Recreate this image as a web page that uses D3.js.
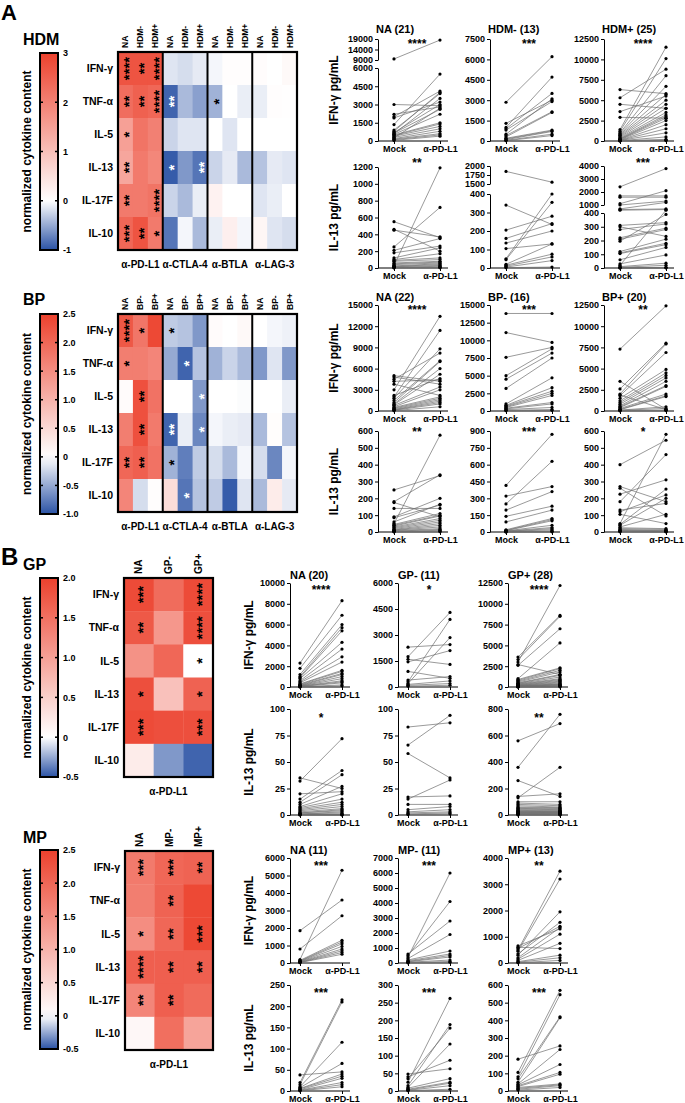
<!DOCTYPE html>
<html>
<head>
<meta charset="utf-8">
<script src="https://cdn.jsdelivr.net/npm/d3@7"></script>
<style>
  body { margin: 0; background: #fff; }
  svg text { font-family: Arial, "Liberation Sans", sans-serif; fill: #000; }
  .yax text, .xax text { font-size: 9px; font-weight: bold; }
  .cbax text { font-size: 9px; font-weight: bold; }
</style>
</head>
<body>
<svg id="fig" width="685" height="1103"></svg>
<script>
// ---- heatmap data ----
const cytokines = ["IFN-γ", "TNF-α", "IL-5", "IL-13", "IL-17F", "IL-10"];
const blockersA = ["α-PD-L1", "α-CTLA-4", "α-BTLA", "α-LAG-3"];
const blockersB = ["α-PD-L1"];
const conds = ["Mock", "α-PD-L1"];

const hdmCols = ["NA", "HDM-", "HDM+"];
const bpCols = ["NA", "BP-", "BP+"];
const gpCols = ["NA", "GP-", "GP+"];
const mpCols = ["NA", "MP-", "MP+"];

const hdmTicks = [3, 2, 1, 0, -1];
const hdmTickLabels = ["3", "2", "1", "0", "-1"];
const bpTicks = [2.5, 2.0, 1.5, 1.0, 0.5, 0, -0.5, -1.0];
const bpTickLabels = ["2.5", "2.0", "1.5", "1.0", "0.5", "0", "-0.5", "-1.0"];
const gpTicks = [2.0, 1.5, 1.0, 0.5, 0, -0.5];
const gpTickLabels = ["2.0", "1.5", "1.0", "0.5", "0", "-0.5"];
const mpTicks = [2.5, 2.0, 1.5, 1.0, 0.5, 0, -0.5];
const mpTickLabels = ["2.5", "2.0", "1.5", "1.0", "0.5", "0", "-0.5"];

const hdmHeat = [
  [2.7, 2.7, 2.7, -0.15, -0.2, -0.12, -0.05, 0.03, 0.03, 0.05, 0.0, 0.1],
  [2.3, 2.5, 2.4, -0.9, -0.4, -0.55, -0.45, 0.0, -0.1, -0.1, 0.03, 0.02],
  [1.5, 2.2, 2.0, -0.25, -0.15, -0.15, 0.0, -0.15, 0.0, 0.0, 0.0, 0.0],
  [1.4, 2.1, 1.9, -0.95, -0.6, -0.8, -0.25, -0.12, -0.4, -0.35, -0.12, -0.15],
  [2.1, 2.1, 2.2, -0.25, -0.4, -0.1, 0.2, 0.0, 0.0, -0.15, -0.1, 0.0],
  [2.4, 2.7, 2.1, -0.8, -0.05, -0.4, -0.1, 0.25, -0.05, 0.15, -0.15, -0.2]
];
const hdmStars = [
  ["****", "**", "****", "", "", "", "", "", "", "", "", ""],
  ["**", "**", "****", "**", "", "", "*", "", "", "", "", ""],
  ["*", "", "", "", "", "", "", "", "", "", "", ""],
  ["**", "", "", "*", "", "**", "", "", "", "", "", ""],
  ["**", "", "****", "", "", "", "", "", "", "", "", ""],
  ["***", "**", "*", "", "", "", "", "", "", "", "", ""]
];

const bpHeat = [
  [2.2, 1.8, 2.4, -0.3, -0.35, -0.6, 0.05, 0.0, 0.08, 0.0, -0.05, -0.08],
  [1.7, 1.7, 1.6, -0.5, -0.9, -0.35, -0.45, -0.25, -0.4, -0.6, -0.15, -0.6],
  [0.05, 2.3, 1.85, 0.0, 0.0, -0.6, 0.0, 0.0, -0.02, 0.0, 0.0, -0.1],
  [1.7, 2.3, 1.75, -0.9, -0.1, -0.7, -0.05, -0.1, -0.12, -0.4, 0.03, -0.35],
  [2.0, 2.1, 1.85, -0.45, -0.75, -0.3, -0.2, -0.4, -0.05, -0.2, -0.7, -0.05],
  [1.6, -0.2, 0.02, 0.45, -0.8, -0.35, -0.3, -0.95, -0.15, -0.4, 0.25, -0.12]
];
const bpStars = [
  ["****", "*", "", "*", "", "", "", "", "", "", "", ""],
  ["*", "", "", "", "*", "", "", "", "", "", "", ""],
  ["", "**", "", "", "", "*", "", "", "", "", "", ""],
  ["", "**", "", "**", "", "*", "", "", "", "", "", ""],
  ["**", "**", "", "*", "", "", "", "", "", "", "", ""],
  ["", "", "", "", "*", "", "", "", "", "", "", ""]
];

const gpHeat = [[1.9, 1.55, 1.9], [1.75, 1.1, 1.85], [1.15, 1.6, 0.0], [1.85, 0.65, 1.65], [1.9, 1.85, 1.85], [0.2, -0.3, -0.45]];
const gpStars = [["***", "", "****"], ["**", "", "****"], ["", "", "*"], ["*", "", "*"], ["***", "", "***"], ["", "", ""]];

const mpHeat = [[1.75, 2.0, 2.05], [1.7, 2.05, 2.4], [1.5, 2.0, 2.4], [2.1, 2.1, 2.1], [1.6, 2.1, 1.95], [0.1, 1.9, 1.2]];
const mpStars = [["***", "***", "**"], ["", "**", ""], ["*", "**", "***"], ["****", "**", "**"], ["**", "**", ""], ["", "", ""]];

// ---- paired plot data: [Mock, α-PD-L1] pg/mL ----
const hdmTitles = ["NA (21)", "HDM- (13)", "HDM+ (25)"];
const bpTitles = ["NA (22)", "BP- (16)", "BP+ (20)"];
const gpTitles = ["NA (20)", "GP- (11)", "GP+ (28)"];
const mpTitles = ["NA (11)", "MP- (11)", "MP+ (13)"];

const hdmIfnSig = ["****", "***", "****"];
const hdmIl13Sig = ["**", "", "***"];
const bpIfnSig = ["****", "***", "**"];
const bpIl13Sig = ["**", "***", "*"];
const gpIfnSig = ["****", "*", "****"];
const gpIl13Sig = ["*", "", "**"];
const mpIfnSig = ["***", "***", "**"];
const mpIl13Sig = ["***", "***", "***"];

const hdmNaIfnTicks = [[0, 1500, 3000, 4500, 6000], [9000, 14000, 19000]];
const hdmNegIfnTicks = [0, 1500, 3000, 4500, 6000, 7500];
const hdmPosIfnTicks = [0, 2500, 5000, 7500, 10000, 12500];
const hdmNaIl13Ticks = [0, 200, 400, 600, 800, 1000, 1200];
const hdmNegIl13Ticks = [[0, 100, 200, 300, 400], [1500, 1750, 2000]];
const hdmPosIl13Ticks = [[0, 100, 200, 300, 400], [1000, 2000, 3000, 4000]];
const bpNaIfnTicks = [0, 3000, 6000, 9000, 12000, 15000];
const bpNegIfnTicks = [0, 2500, 5000, 7500, 10000, 12500, 15000];
const bpPosIfnTicks = [0, 2500, 5000, 7500, 10000, 12500];
const bpNaIl13Ticks = [0, 100, 200, 300, 400, 500, 600];
const bpNegIl13Ticks = [0, 150, 300, 450, 600, 750, 900];
const bpPosIl13Ticks = [0, 100, 200, 300, 400, 500, 600];
const gpNaIfnTicks = [0, 2000, 4000, 6000, 8000, 10000];
const gpNegIfnTicks = [0, 1500, 3000, 4500, 6000];
const gpPosIfnTicks = [0, 2500, 5000, 7500, 10000, 12500];
const gpNaIl13Ticks = [0, 25, 50, 75, 100];
const gpNegIl13Ticks = [0, 25, 50, 75, 100];
const gpPosIl13Ticks = [0, 200, 400, 600, 800];
const mpNaIfnTicks = [0, 1000, 2000, 3000, 4000, 5000, 6000];
const mpNegIfnTicks = [0, 1000, 2000, 3000, 4000, 5000, 6000, 7000];
const mpPosIfnTicks = [0, 1000, 2000, 3000, 4000];
const mpNaIl13Ticks = [0, 50, 100, 150, 200, 250];
const mpNegIl13Ticks = [0, 50, 100, 150, 200, 250, 300];
const mpPosIl13Ticks = [0, 100, 200, 300, 400, 500, 600];

const hdmNaIfn = [[9500, 18500], [3000, 2900], [2200, 2800], [2000, 4100], [1900, 3200], [1350, 5500], [900, 3900], [800, 4000], [700, 3000], [650, 2600], [600, 3500], [550, 2200], [500, 1500], [450, 1400], [400, 1200], [300, 1000], [250, 2700], [200, 800], [150, 600], [100, 500], [50, 400]];
const hdmNegIfn = [[2850, 6200], [1300, 3000], [1000, 4700], [900, 3500], [800, 2900], [500, 3100], [400, 2150], [300, 2100], [200, 800], [150, 750], [100, 700], [50, 500], [20, 400]];
const hdmPosIfn = [[6300, 5800], [5300, 8800], [4500, 4000], [3600, 5500], [2900, 2800], [1400, 11500], [1200, 10100], [1000, 8000], [900, 6700], [800, 5700], [700, 5000], [600, 4500], [500, 4000], [400, 3500], [300, 3200], [250, 3000], [200, 2800], [150, 2500], [100, 2000], [80, 1500], [60, 1000], [40, 500], [30, 200], [20, 100], [10, 50]];
const hdmNaIl13 = [[550, 360], [460, 200], [450, 370], [250, 720], [210, 350], [180, 260], [120, 240], [100, 170], [90, 120], [80, 100], [60, 80], [50, 70], [40, 60], [30, 1190], [25, 50], [20, 40], [15, 30], [10, 20], [5, 10], [3, 5], [2, 3]];
const hdmNegIl13 = [[1850, 1550], [340, 235], [205, 280], [160, 240], [135, 200], [105, 130], [50, 400], [45, 355], [20, 130], [15, 75], [10, 60], [5, 40], [2, 5]];
const hdmPosIl13 = [[2400, 3800], [1700, 1700], [1600, 1600], [1100, 2100], [1000, 1300], [700, 1200], [650, 700], [600, 650], [310, 330], [300, 230], [280, 320], [220, 290], [210, 280], [195, 390], [120, 210], [110, 180], [105, 170], [60, 150], [30, 95], [20, 600], [10, 35], [5, 20], [2, 5], [1, 2], [0.5, 1]];

const bpNaIfn = [[5000, 4200], [4800, 3800], [4500, 8200], [4200, 4400], [3800, 2200], [3000, 13400], [2200, 4600], [2000, 11400], [1800, 8800], [1500, 7100], [1200, 7000], [1000, 6000], [900, 5200], [800, 3400], [600, 3000], [500, 2000], [400, 1800], [300, 1600], [200, 1400], [150, 1200], [100, 1000], [50, 600]];
const bpNegIfn = [[13800, 13800], [11100, 9700], [7600, 9000], [5000, 8800], [4500, 8200], [3200, 7500], [1000, 4700], [800, 3300], [700, 2800], [600, 2500], [500, 2200], [400, 1200], [300, 1000], [200, 500], [100, 200], [50, 100]];
const bpPosIfn = [[7300, 12400], [3500, 200], [2600, 8000], [2000, 7900], [1900, 150], [1800, 6900], [1500, 4900], [1200, 4500], [1000, 4200], [800, 3900], [600, 3500], [500, 3000], [400, 2900], [300, 2000], [200, 1800], [150, 1700], [100, 500], [80, 300], [50, 100], [20, 50]];
const bpNaIl13 = [[250, 335], [180, 340], [175, 90], [140, 140], [90, 200], [85, 160], [60, 165], [50, 575], [45, 110], [40, 100], [35, 95], [30, 80], [25, 70], [20, 60], [15, 50], [12, 40], [10, 30], [8, 20], [5, 15], [3, 10], [2, 5], [1, 2]];
const bpNegIl13 = [[415, 870], [320, 405], [250, 630], [195, 360], [140, 230], [90, 195], [20, 120], [15, 110], [12, 100], [10, 60], [8, 40], [6, 30], [5, 20], [3, 10], [2, 5], [1, 2]];
const bpPosIl13 = [[400, 545], [270, 180], [260, 95], [225, 310], [180, 460], [130, 170], [120, 220], [105, 50], [50, 580], [45, 255], [40, 200], [30, 105], [25, 20], [20, 15], [15, 10], [10, 8], [8, 5], [5, 3], [3, 2], [1, 1]];

const gpNaIfn = [[2300, 8300], [1800, 6900], [1200, 6000], [1000, 5700], [900, 5400], [800, 4300], [600, 3650], [500, 2900], [400, 2400], [300, 1600], [250, 1500], [200, 1300], [150, 1200], [120, 1000], [100, 800], [80, 600], [60, 500], [40, 400], [20, 200], [10, 100]];
const gpNegIfn = [[2300, 2450], [1750, 4300], [1600, 1300], [1450, 2100], [900, 500], [400, 600], [300, 3900], [200, 2850], [150, 350], [100, 200], [50, 100]];
const gpPosIfn = [[3600, 8600], [3300, 8500], [3000, 12200], [2700, 1500], [2600, 7000], [1000, 5300], [900, 2300], [800, 2200], [700, 2000], [600, 1800], [500, 1500], [450, 1400], [400, 1200], [350, 1000], [300, 900], [250, 800], [200, 700], [180, 600], [150, 500], [120, 400], [100, 350], [80, 300], [60, 250], [50, 200], [40, 150], [30, 100], [20, 50], [10, 20]];
const gpNaIl13 = [[35, 25], [32, 72], [20, 22], [15, 42], [12, 38], [10, 27], [8, 20], [7, 15], [6, 12], [5, 10], [4, 8], [3, 6], [2, 5], [2, 4], [1, 3], [1, 2], [0.5, 1], [0.5, 0.5], [0.2, 0.3], [0.1, 0.1]];
const gpNegIl13 = [[83, 87], [66, 94], [58, 35], [17, 18], [15, 33], [10, 10], [5, 8], [3, 5], [2, 3], [1, 2], [0.5, 1]];
const gpPosIl13 = [[560, 690], [360, 760], [260, 140], [140, 160], [130, 360], [100, 100], [90, 80], [80, 70], [70, 60], [60, 55], [55, 50], [50, 45], [45, 40], [40, 35], [35, 30], [30, 28], [28, 25], [25, 22], [22, 20], [20, 18], [18, 15], [15, 12], [12, 10], [10, 8], [8, 5], [5, 3], [3, 2], [1, 1]];

const mpNaIfn = [[1850, 3600], [800, 2700], [200, 5300], [150, 1300], [120, 1200], [100, 1100], [80, 950], [60, 800], [40, 700], [30, 600], [20, 500]];
const mpNegIfn = [[600, 2800], [500, 4100], [400, 6000], [300, 1900], [200, 800], [150, 600], [100, 500], [80, 400], [50, 200], [30, 100], [10, 50]];
const mpPosIfn = [[650, 1300], [600, 550], [550, 1400], [500, 3500], [450, 3200], [350, 1550], [300, 1950], [200, 1350], [150, 1100], [100, 750], [50, 300], [30, 200], [10, 100]];
const mpNaIl13 = [[38, 45], [20, 215], [15, 210], [10, 115], [8, 65], [6, 40], [5, 35], [3, 30], [2, 20], [1, 15], [0.5, 10]];
const mpNegIl13 = [[48, 63], [40, 87], [35, 178], [25, 262], [15, 188], [10, 133], [8, 35], [5, 25], [3, 22], [2, 15], [1, 5]];
const mpPosIl13 = [[180, 255], [105, 570], [80, 545], [70, 420], [50, 415], [40, 235], [35, 150], [30, 105], [25, 95], [20, 40], [15, 35], [10, 30], [5, 20]];

// ---- drawing ----
const svg = d3.select("#fig");
const BLUE = "#2b53a5", RED = "#ec412d";

function heatmap(s) {
  const g = svg.append("g");
  const lo = d3.min(s.ticks), hi = d3.max(s.ticks);
  const color = d3.scaleLinear().domain([lo, 0, hi]).range([BLUE, "#ffffff", RED]);

  // colorbar
  const gid = "grad-" + s.name;
  const grad = svg.append("defs").append("linearGradient").attr("id", gid)
    .attr("x1", 0).attr("y1", 0).attr("x2", 0).attr("y2", 1);
  d3.range(0, 1.0001, 0.05).forEach(t => {
    grad.append("stop").attr("offset", t).attr("stop-color", color(hi - t * (hi - lo)));
  });
  const cy = d3.scaleLinear().domain([lo, hi]).range([s.cb1, s.cb0]);
  g.append("rect").attr("x", 40).attr("y", s.cb0).attr("width", 18).attr("height", s.cb1 - s.cb0)
    .attr("fill", `url(#${gid})`).attr("stroke", "#000").attr("stroke-width", 2);
  s.ticks.forEach(t => {
    g.append("line").attr("x1", 40).attr("x2", 43).attr("y1", cy(t)).attr("y2", cy(t)).attr("stroke", "#000").attr("stroke-width", 1.5);
    g.append("line").attr("x1", 55).attr("x2", 58).attr("y1", cy(t)).attr("y2", cy(t)).attr("stroke", "#000").attr("stroke-width", 1.5);
  });
  g.append("g").attr("class", "cbax").attr("transform", "translate(59,0)")
    .call(d3.axisRight(cy).tickValues(s.ticks).tickSize(0).tickPadding(4).tickFormat((d, i) => s.tickLabels[i]))
    .call(a => a.select(".domain").remove());
  g.append("text").attr("transform", `translate(31,${(s.cb0 + s.cb1) / 2}) rotate(-90)`)
    .attr("text-anchor", "middle").attr("font-size", 12).attr("font-weight", "bold")
    .text("normalized cytokine content");
  g.append("text").attr("x", 23).attr("y", s.nameY).attr("font-size", 16).attr("font-weight", "bold").text(s.name);

  // cells
  const ncol = s.blockers.length * s.groups.length;
  const xs = d3.scaleBand().domain(d3.range(ncol)).range([s.x0, s.x1]);
  const ys = d3.scaleBand().domain(cytokines).range([s.y0, s.y1]);
  const cells = s.values.flatMap((row, i) => row.map((v, j) => ({ i, j, v, st: s.stars[i][j] })));
  g.selectAll("rect.cell").data(cells).join("rect").attr("class", "cell")
    .attr("x", d => xs(d.j)).attr("y", d => ys(cytokines[d.i]))
    .attr("width", xs.bandwidth() + 0.4).attr("height", ys.bandwidth() + 0.4)
    .attr("fill", d => color(d.v));
  g.selectAll("text.star").data(cells.filter(d => d.st)).join("text").attr("class", "star")
    .attr("transform", d => `translate(${xs(d.j) + xs.bandwidth() / 2},${ys(cytokines[d.i]) + ys.bandwidth() / 2}) rotate(-90)`)
    .attr("text-anchor", "middle").attr("dy", "0.58em")
    .attr("font-size", 15).attr("font-weight", "bold")
    .style("fill", d => d.v < -0.5 ? "#fff" : "#000")
    .text(d => d.st);

  // column / row / group labels
  const colNames = s.blockers.flatMap(() => s.groups);
  g.selectAll("text.col").data(colNames).join("text").attr("class", "col")
    .attr("transform", (d, j) => `translate(${xs(j) + xs.bandwidth() / 2},${s.y0 - 4}) rotate(-90)`)
    .attr("dy", "0.35em").attr("font-size", s.colFont).attr("font-weight", "bold").text(d => d);
  g.selectAll("text.row").data(cytokines).join("text").attr("class", "row")
    .attr("x", s.x0 - 5).attr("y", d => ys(d) + ys.bandwidth() / 2).attr("dy", "0.35em")
    .attr("text-anchor", "end").attr("font-size", 10.5).attr("font-weight", "bold").text(d => d);
  const gw = xs.bandwidth() * s.groups.length;
  g.selectAll("text.grp").data(s.blockers).join("text").attr("class", "grp")
    .attr("x", (d, k) => s.x0 + gw * (k + 0.5)).attr("y", s.y1 + 18)
    .attr("text-anchor", "middle").attr("font-size", 10).attr("font-weight", "bold").text(d => d);
  d3.range(1, s.blockers.length).forEach(k => {
    g.append("line").attr("x1", s.x0 + gw * k).attr("x2", s.x0 + gw * k).attr("y1", s.y0).attr("y2", s.y1)
      .attr("stroke", "#000").attr("stroke-width", 2);
  });
  g.append("rect").attr("x", s.x0).attr("y", s.y0).attr("width", s.x1 - s.x0).attr("height", s.y1 - s.y0)
    .attr("fill", "none").attr("stroke", "#000").attr("stroke-width", 2.2);
}

function pairPlot(p) {
  const g = svg.append("g");
  const ax = p.ax;
  const x = d3.scalePoint().domain(conds).range([ax + p.L.mo, ax + p.L.po]);
  const segs = p.breaks
    ? p.ticks.map((t, i) => ({ sc: d3.scaleLinear().domain(d3.extent(t)).range(p.breaks[i]), t }))
    : [{ sc: d3.scaleLinear().domain(d3.extent(p.ticks)).range([p.zero, p.top]), t: p.ticks }];
  const y = v => {
    const s = segs.find((s, i) => i === segs.length - 1 || v <= s.sc.domain()[1]);
    return s.sc(v);
  };
  segs.forEach(s => {
    g.append("g").attr("class", "yax").attr("transform", `translate(${ax},0)`)
      .call(d3.axisLeft(s.sc).tickValues(s.t).tickFormat(d3.format("d")).tickSize(3).tickSizeOuter(0).tickPadding(2));
  });
  g.append("line").attr("x1", ax).attr("x2", ax + p.L.end).attr("y1", p.zero).attr("y2", p.zero)
    .attr("stroke", "#000").attr("stroke-width", 1);
  g.append("g").attr("class", "xax").attr("transform", `translate(0,${p.zero})`)
    .call(d3.axisBottom(x).tickSize(3).tickPadding(2))
    .call(a => a.select(".domain").remove());

  g.selectAll("line.pair").data(p.data).join("line").attr("class", "pair")
    .attr("x1", x("Mock")).attr("x2", x("α-PD-L1"))
    .attr("y1", d => y(d[0])).attr("y2", d => y(d[1]))
    .attr("stroke", "#6e6e6e").attr("stroke-width", 0.7);
  const pts = p.data.flatMap(d => [{ c: "Mock", v: d[0] }, { c: "α-PD-L1", v: d[1] }]);
  g.selectAll("circle").data(pts).join("circle")
    .attr("cx", d => x(d.c)).attr("cy", d => y(d.v)).attr("r", 1.6).attr("fill", "#000");

  if (p.title) {
    g.append("text").attr("x", ax + p.L.titleDx).attr("y", p.titleY)
      .attr("font-size", 11).attr("font-weight", "bold").text(p.title);
  }
  if (p.sig) {
    g.append("text").attr("x", (x("Mock") + x("α-PD-L1")) / 2).attr("y", p.sigY).attr("dy", "0.58em")
      .attr("text-anchor", "middle").attr("font-size", 12).attr("font-weight", "bold").text(p.sig);
  }
}

function yLabel(L, top, zero, txt) {
  svg.append("text").attr("transform", `translate(${L.labelX},${(top + zero) / 2}) rotate(-90)`)
    .attr("text-anchor", "middle").attr("font-size", 12).attr("font-weight", "bold").text(txt);
}

const LA = { ax: [378, 490, 604], mo: 16, po: 62, end: 70, labelX: 338, titleDx: -2 };
const LB = { ax: [290, 398, 508], mo: 10, po: 52, end: 60, labelX: 253, titleDx: 0 };

const sections = [
  { L: LA, titles: hdmTitles, rows: [
    { label: "IFN-γ pg/mL", top: 39, zero: 141, sigY: 41, titleY: 33, sig: hdmIfnSig,
      plots: [{ data: hdmNaIfn, ticks: hdmNaIfnTicks, breaks: [[141, 68], [60, 39]] }, { data: hdmNegIfn, ticks: hdmNegIfnTicks }, { data: hdmPosIfn, ticks: hdmPosIfnTicks }] },
    { label: "IL-13 pg/mL", top: 167, zero: 268, sigY: 160, sig: hdmIl13Sig,
      plots: [{ data: hdmNaIl13, ticks: hdmNaIl13Ticks }, { data: hdmNegIl13, ticks: hdmNegIl13Ticks, breaks: [[268, 194], [184, 166]] }, { data: hdmPosIl13, ticks: hdmPosIl13Ticks, breaks: [[268, 213], [205, 166]] }] }
  ] },
  { L: LA, titles: bpTitles, rows: [
    { label: "IFN-γ pg/mL", top: 305, zero: 411, sigY: 307, titleY: 301, sig: bpIfnSig,
      plots: [{ data: bpNaIfn, ticks: bpNaIfnTicks }, { data: bpNegIfn, ticks: bpNegIfnTicks }, { data: bpPosIfn, ticks: bpPosIfnTicks }] },
    { label: "IL-13 pg/mL", top: 431, zero: 532, sigY: 429, sig: bpIl13Sig,
      plots: [{ data: bpNaIl13, ticks: bpNaIl13Ticks }, { data: bpNegIl13, ticks: bpNegIl13Ticks }, { data: bpPosIl13, ticks: bpPosIl13Ticks }] }
  ] },
  { L: LB, titles: gpTitles, rows: [
    { label: "IFN-γ pg/mL", top: 583, zero: 687, sigY: 587, titleY: 579, sig: gpIfnSig,
      plots: [{ data: gpNaIfn, ticks: gpNaIfnTicks }, { data: gpNegIfn, ticks: gpNegIfnTicks }, { data: gpPosIfn, ticks: gpPosIfnTicks }] },
    { label: "IL-13 pg/mL", top: 709, zero: 815, sigY: 715, sig: gpIl13Sig,
      plots: [{ data: gpNaIl13, ticks: gpNaIl13Ticks }, { data: gpNegIl13, ticks: gpNegIl13Ticks }, { data: gpPosIl13, ticks: gpPosIl13Ticks }] }
  ] },
  { L: LB, titles: mpTitles, rows: [
    { label: "IFN-γ pg/mL", top: 858, zero: 963, sigY: 863, titleY: 854, sig: mpIfnSig,
      plots: [{ data: mpNaIfn, ticks: mpNaIfnTicks }, { data: mpNegIfn, ticks: mpNegIfnTicks }, { data: mpPosIfn, ticks: mpPosIfnTicks }] },
    { label: "IL-13 pg/mL", top: 985, zero: 1091, sigY: 990, sig: mpIl13Sig,
      plots: [{ data: mpNaIl13, ticks: mpNaIl13Ticks }, { data: mpNegIl13, ticks: mpNegIl13Ticks }, { data: mpPosIl13, ticks: mpPosIl13Ticks }] }
  ] }
];

sections.forEach(sec => {
  sec.rows.forEach((row, ri) => {
    yLabel(sec.L, row.top, row.zero, row.label);
    row.plots.forEach((pl, k) => {
      pairPlot(Object.assign({}, pl, {
        L: sec.L, ax: sec.L.ax[k], top: row.top, zero: row.zero,
        sig: row.sig[k], sigY: row.sigY,
        title: ri === 0 ? sec.titles[k] : null, titleY: row.titleY
      }));
    });
  });
});

heatmap({ name: "HDM", nameY: 45, x0: 118, x1: 297, y0: 52, y1: 250, cb0: 53, cb1: 250, colFont: 8.5,
  values: hdmHeat, stars: hdmStars, groups: hdmCols, blockers: blockersA, ticks: hdmTicks, tickLabels: hdmTickLabels });
heatmap({ name: "BP", nameY: 305, x0: 118, x1: 297, y0: 314, y1: 512, cb0: 314, cb1: 514, colFont: 8.5,
  values: bpHeat, stars: bpStars, groups: bpCols, blockers: blockersA, ticks: bpTicks, tickLabels: bpTickLabels });
heatmap({ name: "GP", nameY: 570, x0: 124, x1: 213, y0: 578, y1: 777, cb0: 578, cb1: 777, colFont: 10,
  values: gpHeat, stars: gpStars, groups: gpCols, blockers: blockersB, ticks: gpTicks, tickLabels: gpTickLabels });
heatmap({ name: "MP", nameY: 843, x0: 125, x1: 213, y0: 851, y1: 1050, cb0: 850, cb1: 1049, colFont: 10,
  values: mpHeat, stars: mpStars, groups: mpCols, blockers: blockersB, ticks: mpTicks, tickLabels: mpTickLabels });

svg.append("text").attr("x", 1).attr("y", 20).attr("font-size", 22).attr("font-weight", "bold").text("A");
svg.append("text").attr("x", 1).attr("y", 565).attr("font-size", 24).attr("font-weight", "bold").text("B");
</script>
</body>
</html>
